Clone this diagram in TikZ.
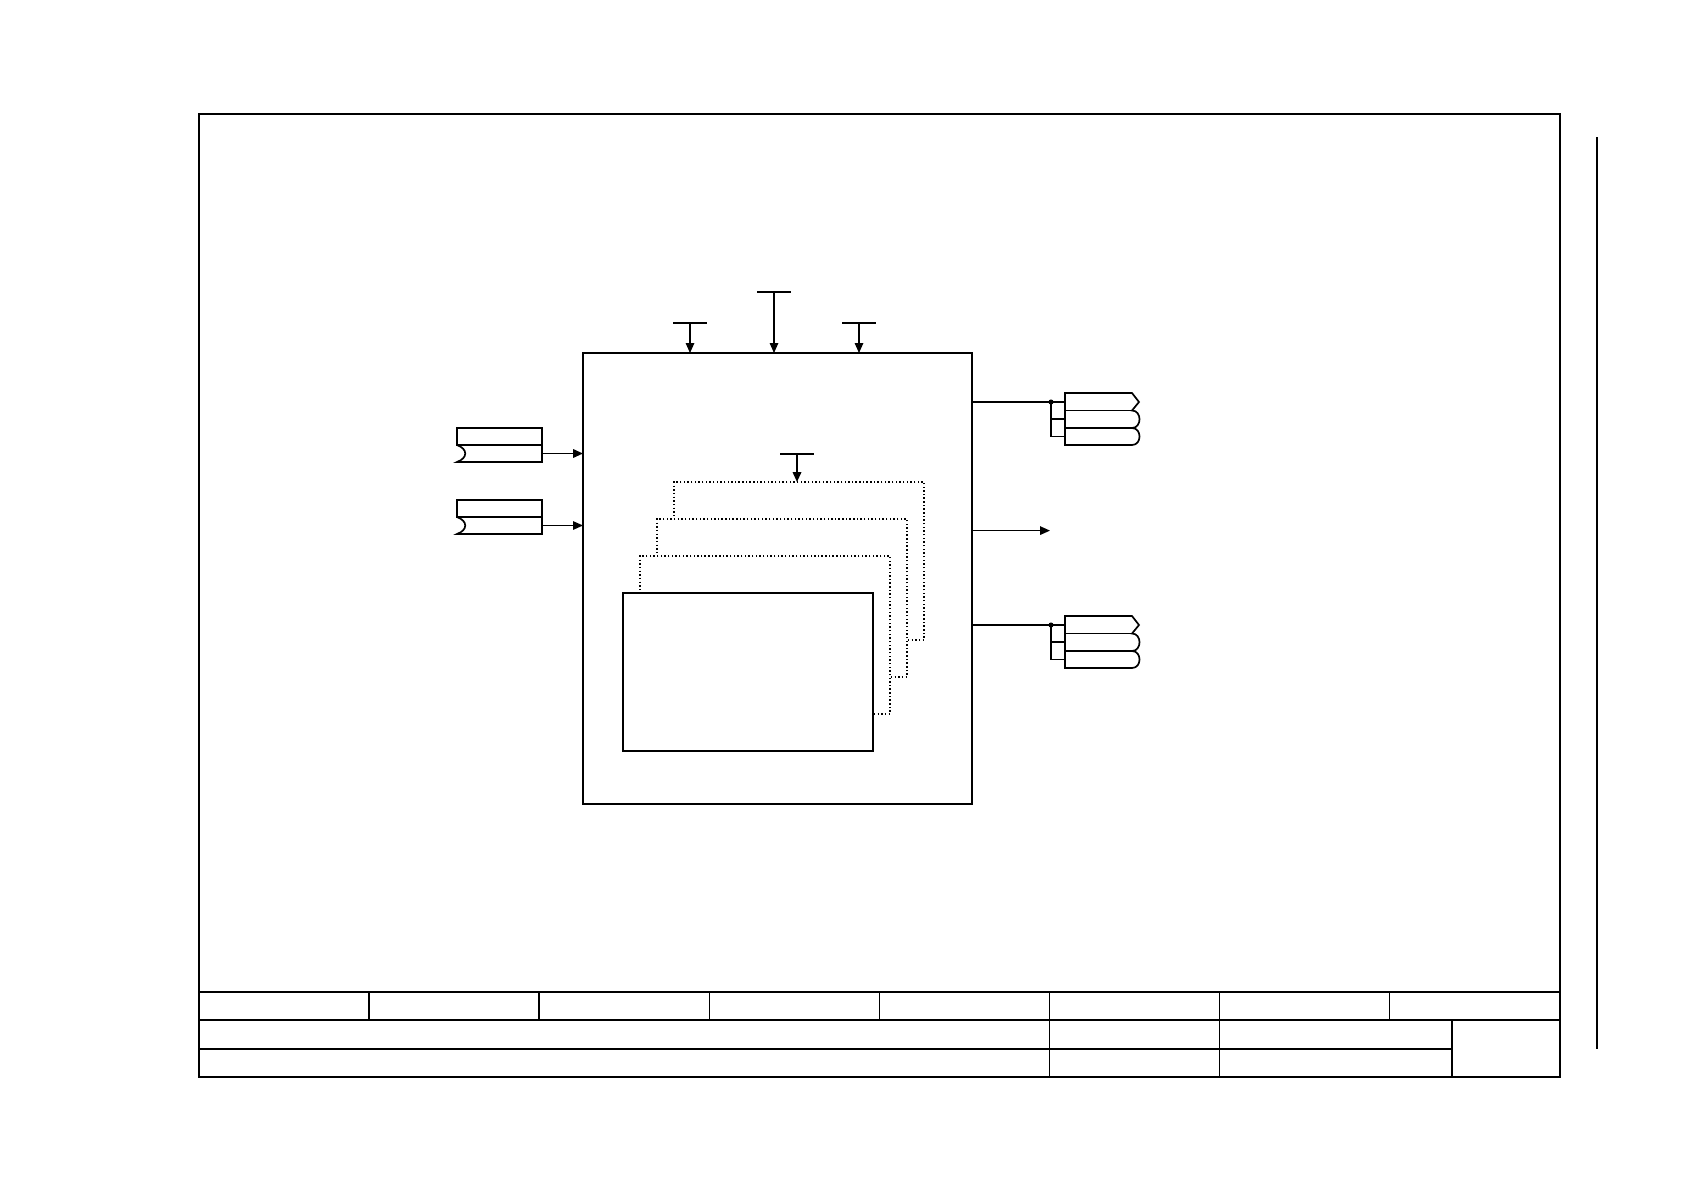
\documentclass[tikz,border=0pt]{standalone}
\usetikzlibrary{arrows.meta,calc}

\begin{document}
\begin{tikzpicture}[
    x=0.025cm, y=-0.025cm,
    frameline/.style={line width=1.9pt},
    gridline/.style={line width=1.1pt},
    blockbox/.style={draw, line width=1.0pt, inner sep=0pt, outer sep=0pt,
                     anchor=north west, minimum width=9.725cm, minimum height=11.275cm},
    cardbox/.style={draw, fill=white, inner sep=0pt, outer sep=0pt, anchor=north west,
                    minimum width=6.25cm, minimum height=3.95cm},
    ghostcard/.style={cardbox, line width=1.0pt, dash pattern=on 1pt off 1.6pt},
    frontcard/.style={cardbox, line width=1.7pt},
    conn/.style={-{Triangle[length=7pt,width=6pt]}, line width=0.9pt},
    portline/.style={line width=1.2pt},
]

\useasboundingbox (0,0) rectangle (1684,1190);

% --- Sheet frame and title block ---
\draw[frameline] (199,114) rectangle (1560,1077);
\draw[frameline] (199,992) -- (1560,992);
\draw[frameline] (199,1020) -- (1560,1020);
\draw[gridline] (199,1049) -- (1452,1049);
\foreach \k in {1,...,7}
    \draw[gridline] (199+170.1*\k,992) -- (199+170.1*\k,1020);
\foreach \x in {1049.5,1219.7}
    \draw[gridline] (\x,1020) -- (\x,1077);
\draw[frameline] (1452,1020) -- (1452,1077);
\draw[gridline] (1597,137) -- (1597,1049);

% --- Function block ---
\node[blockbox] (blk) at (583,353) {};

% --- Parameter inputs on top ---
\foreach \n/\x/\y/\w in {1/690/323/0.9pt, 2/774/292/1.9pt, 3/859/323/0.9pt} {
    \coordinate (par\n) at (\x,\y);
    \draw[line width=\w] ($(par\n)+(-17,0)$) -- ($(par\n)+(17,0)$);
    \draw[conn] (par\n) -- (par\n |- blk.north);
}

% --- Stacked cards (back to front) ---
\foreach \k in {3,2,1}
    \node[ghostcard] (card\k) at (623+17*\k, 593-37*\k) {};
\node[frontcard] (card0) at (623,593) {};

\coordinate (parc) at (797,454);
\draw[line width=0.9pt] ($(parc)+(-17,0)$) -- ($(parc)+(17,0)$);
\draw[conn, line width=1.3pt] (parc) -- (parc |- card3.north);

% --- Input connectors (left) ---
\foreach \n/\y in {1/428, 2/500} {
    \draw[portline] (457,\y) rectangle (542,\y+17);
    \draw[portline] (542,\y+17) -- (542,\y+34) -- (457,\y+34)
        .. controls (468,\y+30) and (468,\y+21) .. (457,\y+17);
    \coordinate (in\n) at (542,\y+25.5);
}
\draw[conn, line width=1.3pt] (in1) -- (in1 -| blk.west);
\draw[conn, line width=0.8pt] (in2) -- (in2 -| blk.west);

% --- Output connectors (right) ---
\foreach \n/\y in {1/393, 2/616} {
    \draw[portline] (1065,\y) -- (1132,\y) -- (1139,\y+9) -- (1132,\y+17.5)
        .. controls (1142,\y+17.5) and (1142,\y+35) .. (1132,\y+35)
        .. controls (1142,\y+35) and (1142,\y+52) .. (1132,\y+52)
        -- (1065,\y+52) -- cycle;
    \draw[portline] (1065,\y+17.5) -- (1132,\y+17.5);
    \draw[portline] (1065,\y+35) -- (1132,\y+35);
    \coordinate (tap\n) at (1051,\y+9);
    \draw[portline] (tap\n -| blk.east) -- (tap\n) -- (1065,\y+9);
    \draw[portline] (tap\n) -- (1051,\y+43.5) -- (1065,\y+43.5);
    \draw[portline] (1051,\y+26) -- (1065,\y+26);
    \fill (tap\n) circle[radius=1.8pt];
}

% --- Plain output ---
\coordinate (outm) at (1050,530.6);
\draw[conn] (outm -| blk.east) -- (outm);

\end{tikzpicture}
\end{document}
